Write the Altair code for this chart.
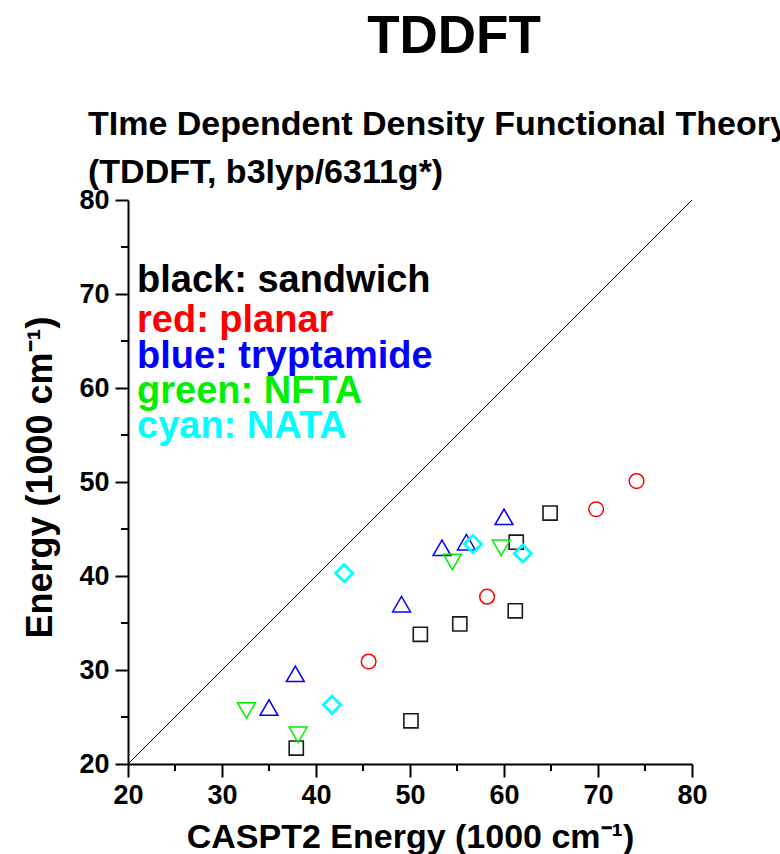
import altair as alt
import pandas as pd

# ---- data ----
sandwich_x = [37.9, 50.1, 51.1, 55.3, 61.2, 61.3, 64.9]
sandwich_y = [21.7, 24.6, 33.8, 34.9, 36.3, 43.6, 46.7]
planar_x = [45.6, 58.2, 69.8, 74.1]
planar_y = [30.9, 37.8, 47.1, 50.1]
tryptamide_x = [35.0, 37.8, 49.1, 53.4, 56.0, 60.0]
tryptamide_y = [26.0, 29.6, 37.0, 43.0, 43.6, 46.3]
nfta_x = [32.6, 38.1, 54.5, 59.7]
nfta_y = [25.7, 23.1, 41.5, 43.0]
nata_x = [41.7, 43.0, 56.7, 62.0]
nata_y = [26.3, 40.3, 43.4, 42.4]
diagonal = [20, 80]
major_ticks = [20, 30, 40, 50, 60, 70, 80]
minor_ticks = [25, 35, 45, 55, 65, 75]
legend_labels = ["black: sandwich", "red: planar", "blue: tryptamide", "green: NFTA", "cyan: NATA"]
main_title = "TDDFT"
subtitle_lines = ["TIme Dependent Density Functional Theory", "(TDDFT, b3lyp/6311g*)"]
x_title = "CASPT2 Energy (1000 cm\u207b\u00b9)"
y_title = "Energy (1000 cm\u207b\u00b9)"

FONT = "Liberation Sans, Arial, Helvetica, sans-serif"
W = H = 564
PAD_L, PAD_T = 128, 200

scale = alt.Scale(domain=[20, 80], nice=False, zero=False)

x_axis = alt.Axis(
    values=major_ticks, tickSize=13, tickWidth=2, tickColor="black",
    domainColor="black", domainWidth=2, grid=False,
    labelFont=FONT, labelFontSize=27, labelFontWeight="bold", labelColor="black",
    labelPadding=5, labelFlush=False, labelOverlap=False,
    titleFont=FONT, titleFontSize=34, titleFontWeight="bold", titleColor="black",
    titleX=W / 2, titleY=847 - 764, titleAlign="center", titleBaseline="alphabetic",
)
y_axis = alt.Axis(
    values=major_ticks, tickSize=13, tickWidth=2, tickColor="black",
    domainColor="black", domainWidth=2, grid=False,
    labelFont=FONT, labelFontSize=27, labelFontWeight="bold", labelColor="black",
    labelPadding=6, labelFlush=False, labelOverlap=False,
    titleFont=FONT, titleFontSize=36, titleFontWeight="bold", titleColor="black",
    titleX=51 - PAD_L, titleY=477 - PAD_T, titleAngle=270, titleAlign="center",
    titleBaseline="alphabetic",
)

X = alt.X("x:Q", scale=scale, axis=x_axis, title=x_title)
Y = alt.Y("y:Q", scale=scale, axis=y_axis, title=y_title)

layers = []

# diagonal reference line
layers.append(
    alt.Chart(pd.DataFrame({"x": diagonal, "y": diagonal}))
    .mark_line(color="black", strokeWidth=1)
    .encode(x=X, y=Y)
)

# minor ticks
layers.append(
    alt.Chart(pd.DataFrame({"x": minor_ticks}))
    .mark_rule(color="black", strokeWidth=2)
    .encode(x=X, y=alt.value(H), y2=alt.value(H + 7))
)
layers.append(
    alt.Chart(pd.DataFrame({"y": minor_ticks}))
    .mark_rule(color="black", strokeWidth=2)
    .encode(y=Y, x=alt.value(0), x2=alt.value(-7))
)

series = [
    (sandwich_x, sandwich_y, "square", "#1a1a1a", 200, 1.6),
    (planar_x, planar_y, "circle", "#ff0000", 215, 1.5),
    (tryptamide_x, tryptamide_y, "triangle-up", "#0000ff", 320, 1.5),
    (nfta_x, nfta_y, "triangle-down", "#00ee00", 320, 1.5),
    (nata_x, nata_y, "diamond", "#00ffff", 300, 2.8),
]
for xs, ys, shape, col, size, sw in series:
    layers.append(
        alt.Chart(pd.DataFrame({"x": xs, "y": ys}))
        .mark_point(shape=shape, color=col, filled=False, size=size, strokeWidth=sw, opacity=1)
        .encode(x=X, y=Y)
    )

# title texts
layers.append(
    alt.Chart(pd.DataFrame({"t": [main_title]}))
    .mark_text(font=FONT, fontSize=53, fontWeight="bold", color="black",
               align="center", baseline="alphabetic")
    .encode(text="t:N", x=alt.value(454 - PAD_L), y=alt.value(53 - PAD_T))
)
for line, by in zip(subtitle_lines, [135, 183]):
    layers.append(
        alt.Chart(pd.DataFrame({"t": [line]}))
        .mark_text(font=FONT, fontSize=34, fontWeight="bold", color="black",
                   align="left", baseline="alphabetic")
        .encode(text="t:N", x=alt.value(88 - PAD_L), y=alt.value(by - PAD_T))
    )

# in-plot legend text
legend_colors = ["#000000", "#ff0000", "#0000ff", "#00ee00", "#00ffff"]
legend_baselines = [292, 332, 368, 403, 438]
for lab, col, by in zip(legend_labels, legend_colors, legend_baselines):
    layers.append(
        alt.Chart(pd.DataFrame({"t": [lab]}))
        .mark_text(font=FONT, fontSize=38, fontWeight="bold", color=col,
                   align="left", baseline="alphabetic")
        .encode(text="t:N", x=alt.value(137 - PAD_L), y=alt.value(by - PAD_T))
    )

chart = (
    alt.layer(*layers)
    .properties(
        width=W, height=H,
        autosize=alt.AutoSizeParams(type="none"),
        padding={"left": PAD_L, "top": PAD_T, "right": 780 - PAD_L - W, "bottom": 854 - PAD_T - H},
        background="white",
    )
    .configure_view(stroke=None)
)

chart.save("out.html", embed_options={"renderer": "svg", "actions": False})
